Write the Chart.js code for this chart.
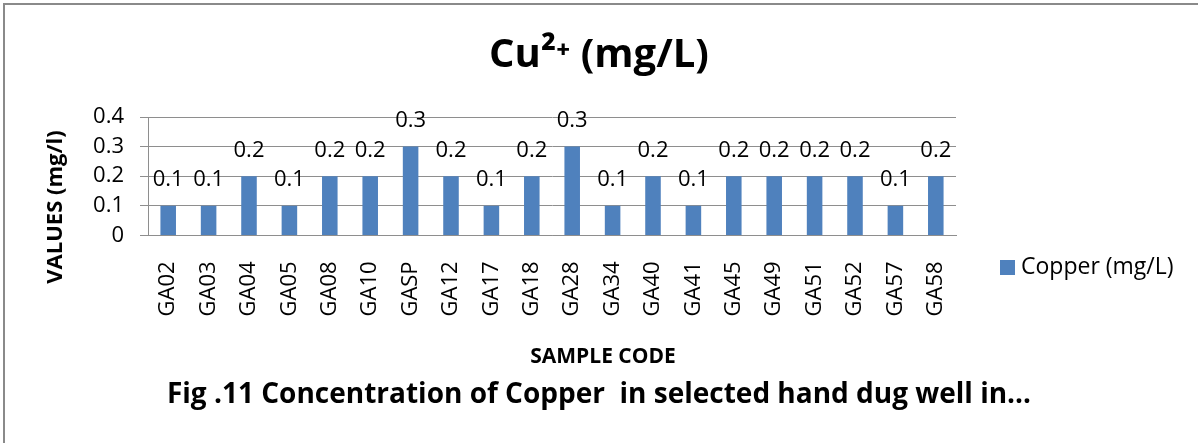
<!DOCTYPE html>
<html>
<head>
<meta charset="utf-8">
<script src="https://cdn.jsdelivr.net/npm/chart.js@4.4.1/dist/chart.umd.min.js"></script>
<style>
  body { margin: 0; background: #fff; }
  .frame {
    position: absolute; left: 3px; top: 3px; width: 1300px; height: 500px;
    border-left: 2px solid #8a8a8a; border-top: 2px solid #8a8a8a;
  }
  #myChart { position: absolute; left: 0; top: 0; }
</style>
</head>
<body>
<div class="frame"></div>
<canvas id="myChart" width="1198" height="443"></canvas>
<script>
// data
const sampleCodes = ["GA02", "GA03", "GA04", "GA05", "GA08", "GA10", "GASP", "GA12", "GA17", "GA18",
  "GA28", "GA34", "GA40", "GA41", "GA45", "GA49", "GA51", "GA52", "GA57", "GA58"];
const copperValues = [0.1, 0.1, 0.2, 0.1, 0.2, 0.2, 0.3, 0.2, 0.1, 0.2,
  0.3, 0.1, 0.2, 0.1, 0.2, 0.2, 0.2, 0.2, 0.1, 0.2];
const yTicks = [0, 0.1, 0.2, 0.3, 0.4];

const FONT = "'Open Sans', 'Noto Sans', sans-serif";
const GRID = "#8e8e8e";

Chart.defaults.font.family = FONT;
Chart.defaults.color = "#000";

// value labels above each bar
const barLabels = {
  id: "barLabels",
  afterDatasetsDraw(chart) {
    const ctx = chart.ctx;
    const meta = chart.getDatasetMeta(0);
    ctx.save();
    ctx.font = "22px " + FONT;
    ctx.fillStyle = "#000";
    ctx.textAlign = "center";
    ctx.textBaseline = "alphabetic";
    meta.data.forEach((bar, i) => {
      ctx.fillText(String(chart.data.datasets[0].data[i]), bar.x, bar.y - 19.5);
    });
    ctx.restore();
  },
};

// axis titles and legend, placed like the Excel original
const extras = {
  id: "extras",
  afterDraw(chart) {
    const ctx = chart.ctx;
    const ds = chart.data.datasets[0];
    ctx.save();
    ctx.fillStyle = "#000";
    ctx.textAlign = "center";
    ctx.textBaseline = "middle";

    ctx.font = "bold 21px " + FONT;
    ctx.fillText("SAMPLE CODE", 603, 357);

    ctx.save();
    ctx.translate(56, 207);
    ctx.rotate(-Math.PI / 2);
    ctx.font = "bold 22px " + FONT;
    ctx.fillText("VALUES (mg/l)", 0, 0);
    ctx.restore();

    // legend
    ctx.fillStyle = ds.backgroundColor;
    ctx.fillRect(1000, 260, 15, 15);
    ctx.fillStyle = "#000";
    ctx.textAlign = "left";
    ctx.font = "23px " + FONT;
    ctx.fillText(ds.label, 1021, 267);
    ctx.restore();
  },
};

new Chart(document.getElementById("myChart"), {
  type: "bar",
  data: {
    labels: sampleCodes,
    datasets: [
      {
        label: "Copper (mg/L)",
        data: copperValues,
        backgroundColor: "#4f81bd",
        barPercentage: 0.385,
        categoryPercentage: 1,
      },
    ],
  },
  options: {
    responsive: false,
    animation: false,
    layout: { padding: 0 },
    plugins: {
      legend: { display: false },
      tooltip: { enabled: false },
      title: {
        display: true,
        text: "Cu²⁺ (mg/L)",
        font: { size: 40, weight: "bold", lineHeight: 1.2 },
        color: "#000",
        padding: { top: 32, bottom: 37 },
      },
      subtitle: {
        display: true,
        position: "bottom",
        text: "Fig .11 Concentration of Copper  in selected hand dug well in…",
        font: { size: 28, weight: "bold", lineHeight: 1.2 },
        color: "#000",
        padding: { top: 0, bottom: 31 },
      },
    },
    scales: {
      x: {
        grid: { display: false },
        border: { display: true, color: GRID, width: 1 },
        ticks: { minRotation: 90, maxRotation: 90, padding: 18, font: { size: 22 }, color: "#000" },
        afterFit(scale) { scale.height = 143; },
      },
      y: {
        min: 0,
        max: 0.4,
        afterBuildTicks(scale) { scale.ticks = yTicks.map((v) => ({ value: v })); },
        grid: { color: GRID, lineWidth: 1, tickLength: 8 },
        border: { display: true, color: GRID, width: 1 },
        ticks: { padding: 16, font: { size: 22 }, color: "#000",
          callback: (v) => (v === 0 ? "0" : v.toFixed(1)) },
        afterFit(scale) { scale.width = 148; },
      },
      // empty right-hand box that leaves room for the legend
      side: {
        type: "linear",
        position: "right",
        grid: { display: false },
        border: { display: false },
        ticks: { display: false },
        afterFit(scale) { scale.width = 242; },
      },
    },
  },
  plugins: [barLabels, extras],
});
</script>
</body>
</html>
